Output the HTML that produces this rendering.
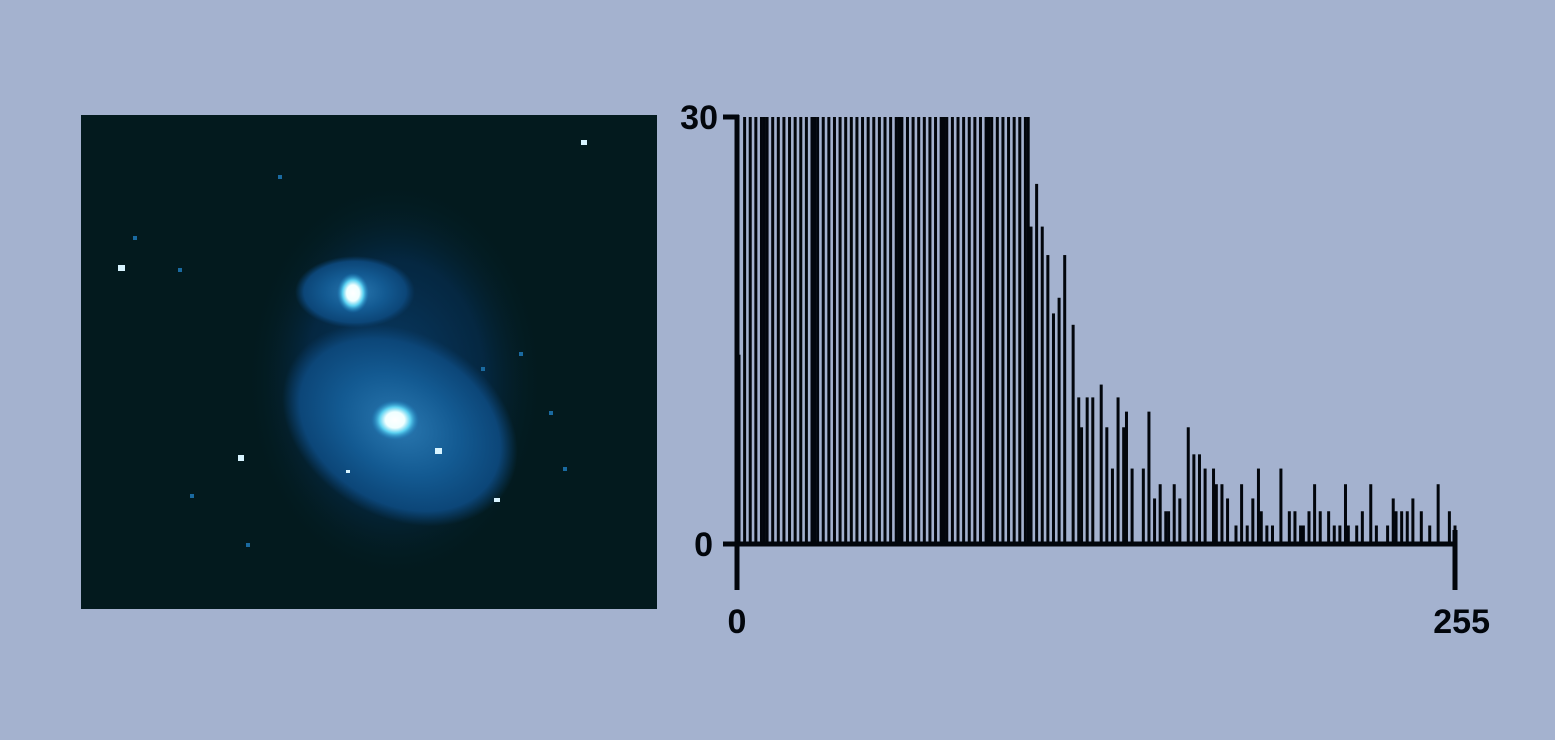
<!DOCTYPE html>
<html><head><meta charset="utf-8"><style>
html,body{margin:0;padding:0;background:#a4b2cf;}
#wrap{position:relative;width:1555px;height:740px;overflow:hidden;background:#a4b2cf;}
</style></head><body>
<div id="wrap">
<svg width="1555" height="740" style="position:absolute;left:0;top:0">
<defs>
<radialGradient id="halo" cx="50%" cy="50%" r="50%">
<stop offset="0" stop-color="#0a4070" stop-opacity="0.9"/><stop offset="0.6" stop-color="#063058" stop-opacity="0.6"/><stop offset="1" stop-color="#031c1e" stop-opacity="0"/></radialGradient>
<radialGradient id="disk" cx="50%" cy="50%" r="50%">
<stop offset="0" stop-color="#2a78b0"/><stop offset="0.5" stop-color="#135a92"/><stop offset="0.85" stop-color="#0c4678"/><stop offset="1" stop-color="#0a3f6e" stop-opacity="0"/></radialGradient>
<radialGradient id="core" cx="50%" cy="50%" r="50%">
<stop offset="0" stop-color="#ffffff"/><stop offset="0.4" stop-color="#f0ffff"/><stop offset="0.65" stop-color="#5ad0f0"/><stop offset="1" stop-color="#1a80c0" stop-opacity="0"/></radialGradient>
</defs>
<g>
<rect x="81" y="115" width="576" height="494" fill="#031a1e"/>
<ellipse cx="395" cy="380" rx="150" ry="200" fill="url(#halo)"/>
<ellipse cx="400" cy="425" rx="125" ry="92" fill="url(#disk)" transform="rotate(30 400 425)"/>
<ellipse cx="355" cy="292" rx="60" ry="36" fill="url(#disk)"/>
<ellipse cx="395" cy="420" rx="24" ry="20" fill="url(#core)"/>
<ellipse cx="353" cy="293" rx="16" ry="20" fill="url(#core)"/>
<g fill="#d8f4ff">
<rect x="581" y="140" width="6" height="5"/><rect x="118" y="265" width="7" height="6"/>
<rect x="238" y="455" width="6" height="6"/><rect x="435" y="448" width="7" height="6"/>
<rect x="494" y="498" width="6" height="4"/><rect x="346" y="470" width="4" height="3"/>
</g>
<g fill="#1a6aa0">
<rect x="178" y="268" width="4" height="4"/><rect x="133" y="236" width="4" height="4"/><rect x="278" y="175" width="4" height="4"/>
<rect x="519" y="352" width="4" height="4"/><rect x="549" y="411" width="4" height="4"/><rect x="246" y="543" width="4" height="4"/>
<rect x="563" y="467" width="4" height="4"/><rect x="481" y="367" width="4" height="4"/><rect x="190" y="494" width="4" height="4"/>
</g>
</g>
<g id="hist"></g>
</svg>
</div>
<script>
const bins=[0,2,4,6,8,9,10,12,14,16,18,20,22,24,26,27,28,30,32,34,36,38,40,42,44,46,48,50,52,54,56,57,58,60,62,64,66,68,70,72,73,74,76,78,80,82,84,86,88,89,90,92,94,96,98,100,102,103,
104,106,108,110,112,114,116,119,121,122,124,126,129,131,133,135,137,138,140,144,146,148,150,152,153,155,157,160,162,164,166,169,170,172,174,177,179,181,183,185,186,188,190,193,196,198,200,201,203,205,207,210,212,214,216,217,220,222,225,227,231,233,234,236,238,240,243,246,249,253,255];
const counts=[13.3,30,30,30,30,30,30,30,30,30,30,30,30,30,30,30,30,30,30,30,30,30,30,30,30,30,30,30,30,30,30,30,30,30,30,30,30,30,30,30,30,30,30,30,30,30,30,30,30,30,30,30,30,30,30,30,30,30,
22.3,25.3,22.3,20.3,16.2,17.3,20.3,15.4,10.3,8.2,10.3,10.3,11.2,8.2,5.3,10.3,8.2,9.3,5.3,5.3,9.3,3.2,4.2,2.3,2.3,4.2,3.2,8.2,6.3,6.3,5.3,5.3,4.2,4.2,3.2,1.3,4.2,1.3,3.2,5.3,2.3,1.3,1.3,5.3,2.3,2.3,1.3,1.3,2.3,4.2,2.3,2.3,1.3,1.3,4.2,1.3,1.3,2.3,4.2,1.3,1.3,3.2,2.3,2.3,2.3,3.2,2.3,1.3,4.2,2.3,1.3];
const yTicks=[0,30];
const xTicks=[0,255];
const X0=737,X1=1455,Y0=544,Y1=117;
const xs=b=>X0+2+(b/255)*(X1-X0-2);
const ys=v=>Y0-(Math.min(v,30)/30)*(Y0-Y1);
const NS='http://www.w3.org/2000/svg';
const g=document.getElementById('hist');
function mk(t,a){const e=document.createElementNS(NS,t);for(const k in a)e.setAttribute(k,a[k]);g.appendChild(e);return e;}
bins.forEach((b,i)=>{
  const r=mk('rect',{x:xs(b)-1.5,y:ys(counts[i]),width:3,height:Y0-ys(counts[i]),fill:'#02060c'});
  
  
});
let e;
e=mk('rect',{x:X0-2.5,y:Y1-2,width:5,height:Y0-Y1+4,fill:'#02060c'});


e=mk('rect',{x:723,y:Y0-2.5,width:X1-723+2,height:5,fill:'#02060c'});


yTicks.forEach(v=>{
  const t=mk('rect',{x:723,y:ys(v)-2.5,width:16,height:5,fill:'#02060c'});
  
  
  const l=mk('text',{x:v==0?713:718,y:ys(v)+12,'text-anchor':'end','font-family':'Liberation Sans, sans-serif','font-weight':'bold','font-size':'34',fill:'#02060c'});
  l.textContent=String(v);
  
  
});
xTicks.forEach(v=>{
  const x=v==0?X0:X1;
  const t=mk('rect',{x:x-2.5,y:v==0?Y0:530,width:5,height:v==0?46:60,fill:'#02060c'});
  
  
  const l=mk('text',{x:v==0?x:1490,y:633,'text-anchor':v==0?'middle':'end','font-family':'Liberation Sans, sans-serif','font-weight':'bold','font-size':'34',fill:'#02060c'});
  l.textContent=String(v);
  
  
});
</script>
</body></html>
